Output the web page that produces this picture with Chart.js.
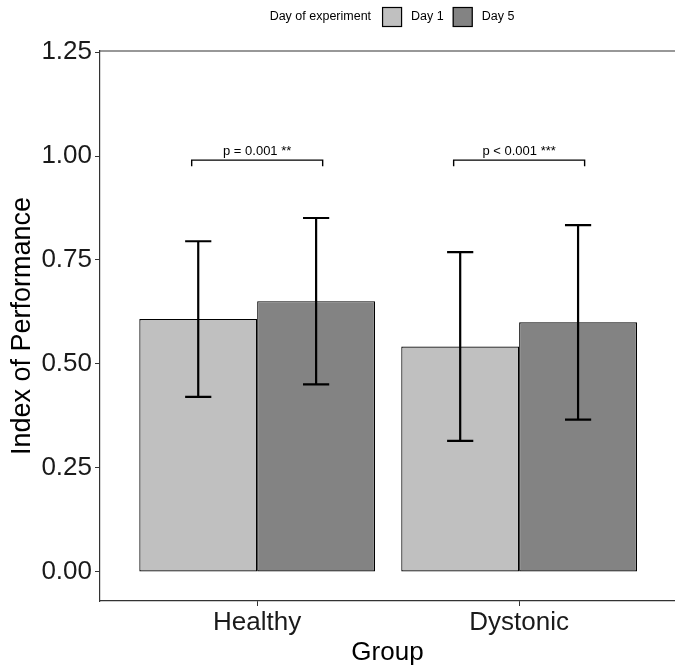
<!DOCTYPE html>
<html>
<head>
<meta charset="utf-8">
<script src="https://cdn.jsdelivr.net/npm/chart.js@4.4.0/dist/chart.umd.min.js"></script>
<style>
  html, body { margin: 0; padding: 0; background: #fff; overflow: hidden; }
  #chart { display: block; }
</style>
</head>
<body>
<canvas id="chart" width="675" height="668"></canvas>
<script>
// group means and standard deviations per day
const groups = ['Healthy', 'Dystonic'];
const groupPositions = [1, 2];
const day1Means = [0.608, 0.542];
const day1Sd = [0.187, 0.227];
const day5Means = [0.651, 0.600];
const day5Sd = [0.200, 0.234];
const yTicks = [0, 0.25, 0.5, 0.75, 1, 1.25];

// significance brackets
const sigFrom = [0.75, 1.75];
const sigTo = [1.25, 2.25];
const sigHeight = [0.99, 0.99];
const sigLabels = ['p = 0.001 **', 'p < 0.001 ***'];

const legendTitle = 'Day of experiment';
const FONT = "'Liberation Sans', Arial, sans-serif";
const capWidth = 0.1;

function toPoints(means){
    return means.map((m, i) => ({x: groupPositions[i], y: m}));
}

const errorBars = {
    id: 'errorBars',
    afterDatasetsDraw: (chart) => {
        const {ctx, scales: {x, y}} = chart;
        const half = x.getPixelForValue(1 + capWidth / 2) - x.getPixelForValue(1);
        ctx.save();
        ctx.strokeStyle = '#000';
        ctx.lineWidth = 2.2;
        chart.data.datasets.forEach((ds, di) => {
            chart.getDatasetMeta(di).data.forEach((bar, i) => {
                const m = ds.data[i].y;
                const top = y.getPixelForValue(m + ds.sd[i]);
                const bot = y.getPixelForValue(m - ds.sd[i]);
                ctx.beginPath();
                ctx.moveTo(bar.x, top);
                ctx.lineTo(bar.x, bot);
                ctx.moveTo(bar.x - half, top);
                ctx.lineTo(bar.x + half, top);
                ctx.moveTo(bar.x - half, bot);
                ctx.lineTo(bar.x + half, bot);
                ctx.stroke();
            });
        });
        ctx.restore();
    }
};

const brackets = {
    id: 'brackets',
    afterDatasetsDraw: (chart) => {
        const {ctx, scales: {x, y}} = chart;
        ctx.save();
        ctx.strokeStyle = '#000';
        ctx.lineWidth = 1.4;
        ctx.fillStyle = '#000';
        ctx.font = '13px ' + FONT;
        ctx.textAlign = 'center';
        ctx.textBaseline = 'bottom';
        sigLabels.forEach((label, i) => {
            const x1 = x.getPixelForValue(sigFrom[i]);
            const x2 = x.getPixelForValue(sigTo[i]);
            const yy = y.getPixelForValue(sigHeight[i]);
            ctx.beginPath();
            ctx.moveTo(x1, yy + 6);
            ctx.lineTo(x1, yy);
            ctx.lineTo(x2, yy);
            ctx.lineTo(x2, yy + 6);
            ctx.stroke();
            ctx.fillText(label, (x1 + x2) / 2, yy - 2);
        });
        ctx.restore();
    }
};

const panelTop = {
    id: 'panelTop',
    afterDraw: (chart) => {
        const {ctx, chartArea} = chart;
        ctx.save();
        ctx.strokeStyle = '#333';
        ctx.lineWidth = 1.2;
        ctx.beginPath();
        ctx.moveTo(chartArea.left, chartArea.top);
        ctx.lineTo(chartArea.right, chartArea.top);
        ctx.stroke();
        ctx.restore();
    }
};

const topLegend = {
    id: 'topLegend',
    afterDraw: (chart) => {
        const ctx = chart.ctx;
        const cy = 17, box = 20, gap = 9;
        ctx.save();
        ctx.font = '12.5px ' + FONT;
        ctx.textBaseline = 'middle';
        const sets = chart.data.datasets;
        let w = ctx.measureText(legendTitle).width + 11;
        sets.forEach(ds => { w += box + gap + ctx.measureText(ds.label).width + gap; });
        w -= gap;
        let x = 392 - w / 2;
        ctx.fillStyle = '#000';
        ctx.fillText(legendTitle, x, cy);
        x += ctx.measureText(legendTitle).width + 11;
        sets.forEach(ds => {
            ctx.fillStyle = ds.backgroundColor;
            ctx.fillRect(x, cy - box / 2, box, box);
            ctx.strokeStyle = '#000';
            ctx.lineWidth = 1.2;
            ctx.strokeRect(x + 0.5, cy - box / 2 + 0.5, box - 1, box - 1);
            x += box + gap;
            ctx.fillStyle = '#000';
            ctx.fillText(ds.label, x, cy);
            x += ctx.measureText(ds.label).width + gap;
        });
        ctx.restore();
    }
};

new Chart(document.getElementById('chart'), {
    type: 'bar',
    data: {
        datasets: [{
            label: 'Day 1',
            data: toPoints(day1Means),
            sd: day1Sd,
            backgroundColor: '#c0c0c0',
            borderColor: '#000',
            borderWidth: 1.2,
            borderSkipped: false
        }, {
            label: 'Day 5',
            data: toPoints(day5Means),
            sd: day5Sd,
            backgroundColor: '#838383',
            borderColor: '#000',
            borderWidth: 1.2,
            borderSkipped: false
        }]
    },
    options: {
        responsive: false,
        animation: false,
        categoryPercentage: 0.9,
        barPercentage: 1.0,
        layout: { padding: { top: 51, right: 0, bottom: 0, left: 0 } },
        scales: {
            x: {
                type: 'linear',
                min: 0.4,
                max: 2.595,
                offset: false,
                afterBuildTicks: s => { s.ticks = groupPositions.map(v => ({value: v})); },
                afterFit: s => { s.height = 67; },
                grid: { offset: false, drawOnChartArea: false, drawTicks: true, tickLength: 5, color: '#333' },
                border: { display: true, color: '#333', width: 1.2 },
                ticks: {
                    font: { family: FONT, size: 26 },
                    color: '#1a1a1a',
                    padding: 1,
                    autoSkip: false,
                    maxRotation: 0,
                    callback: v => groups[groupPositions.indexOf(v)]
                },
                title: {
                    display: true,
                    text: 'Group',
                    font: { family: FONT, size: 26 },
                    color: '#000',
                    padding: { top: 0, bottom: 0 }
                }
            },
            y: {
                min: -0.07,
                max: 1.2525,
                afterBuildTicks: s => { s.ticks = yTicks.map(v => ({value: v})); },
                afterFit: s => { s.width = 100; },
                grid: { drawOnChartArea: false, drawTicks: true, tickLength: 5, color: '#333' },
                border: { display: true, color: '#333', width: 1.2 },
                ticks: {
                    font: { family: FONT, size: 26 },
                    color: '#1a1a1a',
                    padding: 3,
                    callback: v => v.toFixed(2)
                },
                title: {
                    display: true,
                    text: 'Index of Performance',
                    font: { family: FONT, size: 27 },
                    color: '#000',
                    padding: { top: 6, bottom: 0 }
                }
            }
        },
        plugins: {
            legend: { display: false },
            tooltip: { enabled: false }
        }
    },
    plugins: [errorBars, brackets, panelTop, topLegend]
});
</script>
</body>
</html>
